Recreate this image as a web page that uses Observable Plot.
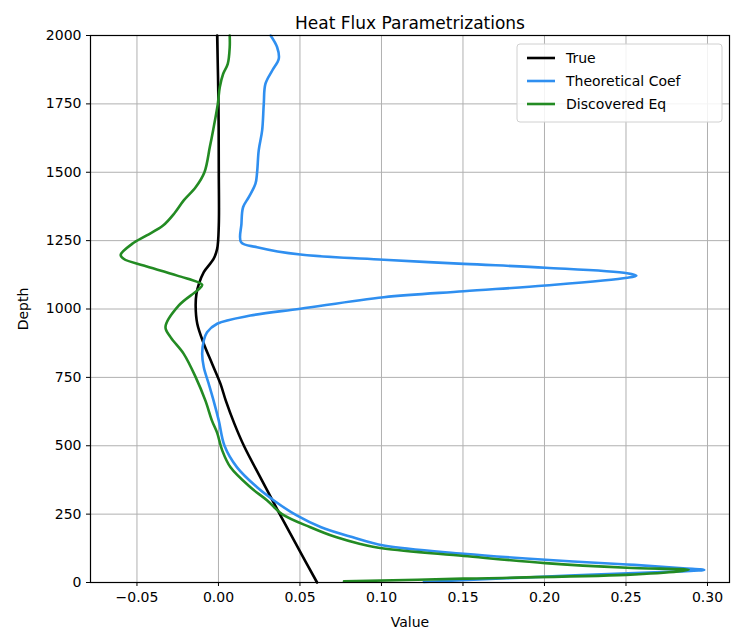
<!DOCTYPE html>
<html>
<head>
<meta charset="utf-8">
<script src="https://cdn.jsdelivr.net/npm/d3@7"></script>
<script src="https://cdn.jsdelivr.net/npm/@observablehq/plot@0.6"></script>
<style>
  html, body { margin: 0; padding: 0; background: #fff; }
  #chart { width: 731px; height: 632px; }
  svg { font-family: "DejaVu Sans", sans-serif; }
</style>
</head>
<body>
<div id="chart"></div>
<script>
const seriesNames = ["True", "Theoretical Coef", "Discovered Eq"];
const seriesColors = ["#000000", "#2f8ff0", "#238b23"];

const trueDepth = [0, 125, 250, 375, 500, 580, 665, 727, 800, 873, 946, 1013, 1056, 1092, 1135, 1183, 1220, 1305, 1500, 1750, 2000];
const trueValue = [0.0605, 0.049, 0.0376, 0.0265, 0.0156, 0.0098, 0.0045, 0.0012, -0.0039, -0.009, -0.013, -0.014, -0.0135, -0.012, -0.009, -0.003, -0.0008, 0.0002, 0.0002, 0.0, -0.0008];

const theoDepth = [2, 25, 40, 46, 52, 66, 83, 105, 135, 166, 202, 245, 300, 348, 421, 500, 592, 665, 727, 787, 836, 885, 915, 946, 976, 1001, 1043, 1065, 1086, 1114, 1122, 1131, 1151, 1165, 1180, 1199, 1226, 1244, 1311, 1372, 1409, 1458, 1500, 1580, 1653, 1750, 1823, 1872, 1915, 1957, 2000];
const theoValue = [0.126, 0.215, 0.28, 0.298, 0.285, 0.2507, 0.2006, 0.1505, 0.1014, 0.082, 0.063, 0.048, 0.034, 0.0237, 0.0114, 0.0037, 0.0002, -0.003, -0.006, -0.009, -0.010, -0.009, -0.007, -0.0008, 0.0196, 0.0503, 0.1014, 0.1505, 0.2006, 0.2507, 0.2564, 0.2507, 0.2006, 0.1505, 0.1014, 0.0503, 0.0237, 0.0139, 0.0141, 0.0151, 0.0186, 0.0227, 0.0237, 0.0247, 0.0268, 0.0278, 0.0288, 0.033, 0.037, 0.036, 0.032];

const discDepth = [4, 14, 28, 40, 46, 54, 71, 97, 124, 141, 166, 202, 250, 300, 348, 421, 483, 547, 592, 665, 751, 836, 897, 934, 1013, 1068, 1088, 1122, 1159, 1183, 1198, 1238, 1269, 1305, 1350, 1397, 1445, 1500, 1592, 1653, 1750, 1811, 1860, 1896, 1957, 2000];
const discValue = [0.077, 0.15, 0.25, 0.282, 0.2885, 0.2507, 0.2006, 0.1505, 0.1014, 0.087, 0.072, 0.0564, 0.039, 0.0299, 0.0196, 0.0074, 0.0023, -0.0008, -0.004, -0.008, -0.014, -0.0213, -0.0294, -0.0325, -0.0243, -0.013, -0.010, -0.0253, -0.0459, -0.058, -0.060, -0.053, -0.044, -0.034, -0.027, -0.0213, -0.014, -0.0086, -0.0053, -0.0033, -0.0004, 0.0008, 0.0029, 0.0057, 0.0069, 0.0069];

const xTicks = [-0.05, 0.00, 0.05, 0.10, 0.15, 0.20, 0.25, 0.30];
const yTicks = [0, 250, 500, 750, 1000, 1250, 1500, 1750, 2000];

const build = (depths, values, name) => depths.map((d, i) => ({depth: d, value: values[i], series: name}));
const rows = [
  ...build(trueDepth, trueValue, seriesNames[0]),
  ...build(theoDepth, theoValue, seriesNames[1]),
  ...build(discDepth, discValue, seriesNames[2])
];

const plot = Plot.plot({
  width: 731,
  height: 632,
  marginTop: 35,
  marginLeft: 90,
  marginRight: 2,
  marginBottom: 50,
  style: {fontFamily: "DejaVu Sans, sans-serif", fontSize: "14px", color: "#000", background: "#fff"},
  x: {domain: [-0.0785, 0.3135]},
  y: {domain: [0, 2000]},
  color: {domain: seriesNames, range: seriesColors},
  marks: [
    Plot.gridX(xTicks, {stroke: "#b0b0b0", strokeOpacity: 1, strokeWidth: 1}),
    Plot.gridY(yTicks, {stroke: "#b0b0b0", strokeOpacity: 1, strokeWidth: 1}),
    Plot.line(rows, {x: "value", y: "depth", z: "series", stroke: "series", strokeWidth: 2.6, curve: "catmull-rom"}),
    Plot.frame({stroke: "#000", strokeWidth: 1.2}),
    Plot.axisX(xTicks, {tickFormat: d3.format(".2f"), tickSize: 4, tickPadding: 6, fontSize: 14, label: "Value", labelAnchor: "center", labelArrow: "none", labelOffset: 44}),
    Plot.axisY(yTicks, {tickFormat: d => String(d), tickSize: 4, tickPadding: 5, fontSize: 14, label: "Depth", labelAnchor: "center", labelArrow: "none", labelOffset: 72}),
    Plot.text(["Heat Flux Parametrizations"], {frameAnchor: "top", dy: -19, fontSize: 17, fill: "#000"})
  ]
});

document.getElementById("chart").appendChild(plot);

// Legend drawn inside the SVG
const svg = d3.select(plot);
const lg = svg.append("g").attr("transform", "translate(517,44)");
lg.append("rect").attr("width", 205).attr("height", 78).attr("rx", 3)
  .attr("fill", "#fff").attr("fill-opacity", 0.85).attr("stroke", "#d0d0d0");
seriesNames.forEach((name, i) => {
  const y = 14 + i * 23;
  lg.append("line").attr("x1", 10).attr("x2", 38).attr("y1", y).attr("y2", y)
    .attr("stroke", seriesColors[i]).attr("stroke-width", 2.6);
  lg.append("text").attr("x", 49).attr("y", y).attr("dy", "0.35em")
    .attr("text-anchor", "start").attr("font-size", 14).attr("fill", "#000").text(name);
});
</script>
</body>
</html>
